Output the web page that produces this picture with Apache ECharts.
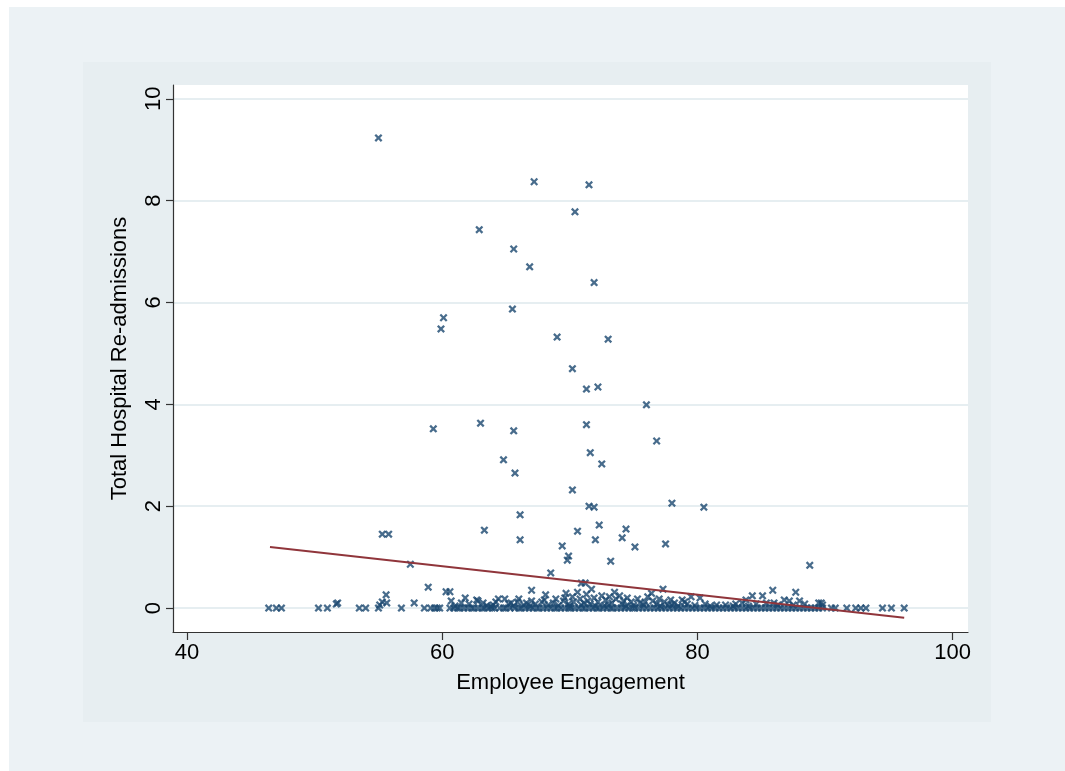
<!DOCTYPE html>
<html>
<head>
<meta charset="utf-8">
<script src="https://cdn.jsdelivr.net/npm/echarts@6/dist/echarts.min.js"></script>
<style>
html,body{margin:0;padding:0;background:#ffffff;}
#chart{width:1065px;height:771px;}
</style>
</head>
<body>
<div id="chart"></div>
<script>
// Axis ticks
var xTicks = [40, 60, 80, 100];
var yTicks = [0, 2, 4, 6, 8, 10];

// Scattered high values [engagement, readmissions]
var highPoints = [
  [55.0,9.23],[67.2,8.37],[71.5,8.31],[70.4,7.78],[62.9,7.43],[65.6,7.05],[66.85,6.70],
  [71.9,6.39],[60.1,5.70],[59.9,5.48],[65.5,5.87],[69.0,5.32],[73.0,5.28],[70.2,4.70],
  [71.3,4.30],[72.2,4.34],[76.0,3.99],[59.3,3.52],[63.0,3.63],[65.6,3.48],[71.3,3.60],
  [76.8,3.28],[71.6,3.05],[64.8,2.91],[72.5,2.83],[65.7,2.65],[70.2,2.32],[71.5,2.00],
  [71.9,1.98],[78.0,2.06],[80.5,1.98],[72.3,1.63],[66.1,1.83],[55.3,1.45],[55.8,1.45],
  [63.3,1.53],[66.1,1.34],[70.6,1.51],[72.0,1.34],[74.1,1.38],[74.4,1.55],[75.1,1.20],
  [77.5,1.26],[69.4,1.22]
];

// Moderate values
var midPoints = [
  [70.9,0.49],[71.2,0.49],[67.0,0.35],[68.5,0.69],[69.8,0.94],[69.9,1.02],[73.2,0.92],
  [57.5,0.86],[88.8,0.84],[58.9,0.41],[60.3,0.32],[60.6,0.32]
];

// Low values near zero
var lowPoints = [
  [51.7,0.08],[51.8,0.10],[55.6,0.26],[55.3,0.12],[55.65,0.10],[55.1,0.06],[57.8,0.10],
  [60.7,0.14],[61.5,0.10],[61.8,0.20],[62.1,0.08],[62.7,0.16],[62.8,0.14],[63.2,0.10],
  [63.5,0.05],[64.0,0.06],[64.2,0.12],[64.4,0.18],[64.9,0.18],[65.2,0.08],[65.6,0.04],
  [65.9,0.12],[66.0,0.18],[66.4,0.06],[66.6,0.10],[66.9,0.04],[67.3,0.08],[67.8,0.12],
  [68.1,0.26],[68.0,0.16],[68.3,0.06],[68.7,0.10],[69.1,0.05],[69.5,0.14],[69.7,0.29],
  [69.6,0.20],[69.9,0.08],[70.2,0.22],[70.3,0.12],[70.6,0.31],[70.8,0.18],[70.9,0.06],
  [71.3,0.27],[71.4,0.14],[71.6,0.08],[71.7,0.37],[71.9,0.20],[72.2,0.12],[72.5,0.24],
  [72.7,0.05],[72.8,0.16],[73.1,0.22],[73.3,0.10],[73.5,0.31],[73.6,0.18],[73.9,0.24],
  [74.1,0.08],[74.2,0.14],[74.5,0.20],[74.8,0.12],[75.0,0.05],[75.3,0.18],[75.5,0.10],
  [75.8,0.06],[76.1,0.22],[76.4,0.29],[76.5,0.14],[76.8,0.08],[77.0,0.18],[77.3,0.37],
  [77.4,0.12],[77.7,0.06],[77.9,0.16],[78.2,0.10],[78.5,0.04],[78.8,0.16],[79.2,0.08],
  [79.5,0.22],[79.8,0.05],[80.2,0.20],[80.6,0.08],[81.0,0.04],[82.2,0.06],[82.8,0.04],
  [83.5,0.10],[83.8,0.16],[84.3,0.24],[84.6,0.08],[85.1,0.24],[85.4,0.10],[85.9,0.35],
  [86.3,0.06],[86.8,0.16],[87.2,0.14],[87.7,0.31],[88.0,0.14],[88.4,0.08],[89.5,0.10],
  [89.7,0.10],[89.8,0.06],
  [61.0,0.04],[63.8,0.03],[65.4,0.10],[67.0,0.14],[68.9,0.18],[70.0,0.04],[71.1,0.10],
  [72.0,0.04],[73.0,0.06],[74.4,0.04],[75.9,0.12],[77.1,0.04],[78.0,0.06],[79.0,0.12],
  [81.5,0.06],[83.0,0.08],[84.0,0.04],[86.0,0.10],[87.5,0.06]
];

// Engagement values of hospitals with zero re-admissions
var zeroX = [
  46.4,47.0,47.4,50.3,51.0,53.5,54.0,55.0,56.8,58.6,59.1,59.4,59.6,59.8,60.6,60.9,61.2,
  61.4,61.7,62.0,62.3,62.5,62.8,63.1,63.3,63.6,63.9,64.1,64.5,64.8,65.0,65.3,65.7,66.0,
  66.2,66.5,66.8,67.1,67.4,67.6,67.9,68.2,68.5,68.8,69.0,69.3,69.6,69.9,70.1,70.4,70.7,
  71.0,71.2,71.5,71.8,72.1,72.3,72.6,72.9,73.2,73.4,73.7,74.0,74.3,74.6,74.9,75.1,75.4,
  75.7,76.0,76.3,76.6,76.9,77.2,77.5,77.8,78.1,78.4,78.7,79.0,79.3,79.6,79.9,80.2,80.5,
  80.8,81.1,81.4,81.7,82.0,82.3,82.6,82.9,83.2,83.5,83.8,84.1,84.4,84.7,85.0,85.3,85.6,
  85.9,86.2,86.5,86.8,87.1,87.4,87.7,88.0,88.3,88.6,88.9,89.2,89.5,89.8,90.5,90.8,91.7,
  92.4,92.8,93.2,94.5,95.2,96.2
];

// Linear fit endpoints
var fitLine = [[46.5,1.20],[96.2,-0.19]];

var scatterData = highPoints.concat(midPoints, lowPoints, zeroX.map(function(x){return [x,0];}));

var xSymbol = 'path://M0,2 L2,0 L5,3 L8,0 L10,2 L7,5 L10,8 L8,10 L5,7 L2,10 L0,8 L3,5 Z';
var FONT = '"Liberation Sans", Arial, Helvetica, sans-serif';

var chart = echarts.init(document.getElementById('chart'), null, {renderer:'canvas'});
chart.setOption({
  animation: false,
  backgroundColor: '#ffffff',
  graphic: [
    {type:'rect', z:-10, shape:{x:9,y:7,width:1056,height:764}, style:{fill:'#ECF2F5'}},
    {type:'rect', z:-9, shape:{x:83,y:62,width:908,height:660}, style:{fill:'#E7EEF1'}}
  ],
  grid: {left:173, top:85, right:97, bottom:139, show:true, backgroundColor:'#ffffff', borderWidth:0},
  xAxis: {
    type:'value', min:38.9, max:101.2,
    name:'Employee Engagement', nameLocation:'middle', nameGap:40,
    nameTextStyle:{fontFamily:FONT, fontSize:22, color:'#000'},
    axisLine:{show:true, onZero:false, lineStyle:{color:'#333', width:1.2}},
    axisTick:{show:true, length:8, customValues:xTicks, lineStyle:{color:'#333', width:1.2}},
    axisLabel:{customValues:xTicks, fontFamily:FONT, fontSize:22, color:'#000', margin:10},
    splitLine:{show:false}
  },
  yAxis: {
    type:'value', min:-0.47, max:10.27,
    name:'Total Hospital Re-admissions', nameLocation:'middle', nameGap:42,
    nameTextStyle:{fontFamily:FONT, fontSize:22, color:'#000'},
    axisLine:{show:true, onZero:false, lineStyle:{color:'#333', width:1.2}},
    axisTick:{show:true, length:7, customValues:yTicks, lineStyle:{color:'#333', width:1.2}},
    axisLabel:{customValues:yTicks, rotate:90, fontFamily:FONT, fontSize:22, color:'#000', margin:8},
    splitLine:{show:true, customValues:yTicks, lineStyle:{color:'#E6EEF1', width:2}}
  },
  series: [
    {
      type:'scatter', data:scatterData, symbol:xSymbol, symbolSize:8,
      itemStyle:{color:'#1A476F'}, z:3, silent:true
    },
    {
      type:'line', data:fitLine, showSymbol:false, symbol:'none',
      lineStyle:{color:'#90353B', width:2}, z:4, silent:true
    }
  ]
});
</script>
</body>
</html>
